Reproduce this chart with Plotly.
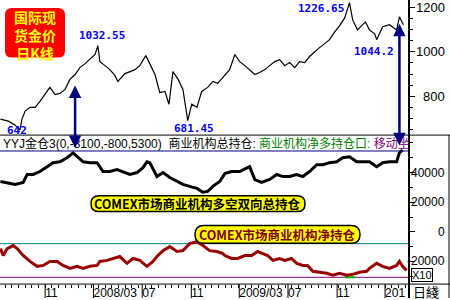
import plotly.graph_objects as go

# ---------------- data ----------------
price_dates = ["2007-07-12","2007-08-01","2007-08-18","2007-08-30","2007-09-04","2007-09-12","2007-09-24",
               "2007-10-07","2007-10-19","2007-11-01","2007-11-13","2007-11-26","2007-12-08","2007-12-21",
               "2008-01-02","2008-01-15","2008-01-27","2008-02-09","2008-02-21","2008-03-05","2008-03-12",
               "2008-03-17","2008-03-30","2008-04-11","2008-04-24","2008-05-01","2008-05-19","2008-05-31",
               "2008-06-13","2008-06-25","2008-07-10","2008-07-20","2008-08-02","2008-08-14","2008-08-27",
               "2008-09-06","2008-09-16","2008-09-29","2008-10-11","2008-10-23","2008-11-02","2008-11-15",
               "2008-11-27","2008-12-12","2008-12-25","2009-01-06","2009-01-24","2009-02-05","2009-02-18",
               "2009-03-02","2009-03-15","2009-03-27","2009-04-09","2009-04-21","2009-05-04","2009-05-16",
               "2009-05-29","2009-06-10","2009-06-23","2009-07-05","2009-07-18","2009-07-30","2009-08-12",
               "2009-08-24","2009-09-06","2009-09-18","2009-10-01","2009-10-13","2009-10-26","2009-11-07",
               "2009-11-20","2009-12-02","2009-12-10","2009-12-22","2010-01-01","2010-01-11","2010-01-21",
               "2010-02-03","2010-02-08","2010-02-23","2010-03-12","2010-03-30","2010-04-06","2010-04-16"]
price_vals = [697, 688, 670, 648, 697, 733, 750,
              750, 777, 808, 840, 808, 813, 831,
              876, 898, 929, 947, 965, 988, 1028,
              956, 938, 920, 893, 867, 902, 911,
              920, 938, 983, 947, 898, 817, 822,
              764, 911, 876, 831, 690, 764, 750,
              822, 840, 867, 858, 898, 920, 988,
              956, 938, 920, 898, 907, 920, 938,
              956, 965, 938, 952, 929, 956, 952,
              979, 1001, 1019, 1037, 1055, 1090, 1117,
              1153, 1222, 1144, 1099, 1117, 1135, 1099,
              1081, 1055, 1113, 1122, 1099, 1158, 1122]

total_dates = ["2007-07-12","2007-08-18","2007-09-07","2007-09-17","2007-10-02","2007-10-19","2007-11-06",
               "2007-11-21","2007-12-08","2007-12-26","2008-01-10","2008-01-20","2008-02-04","2008-02-21",
               "2008-03-10","2008-03-25","2008-04-11","2008-04-29","2008-05-14","2008-05-31","2008-06-18",
               "2008-07-03","2008-07-13","2008-07-20","2008-08-07","2008-08-22","2008-09-08","2008-09-26",
               "2008-10-11","2008-10-28","2008-11-15","2008-11-30","2008-12-12","2008-12-25","2009-01-11",
               "2009-01-24","2009-02-10","2009-03-02","2009-03-27","2009-04-09","2009-04-26","2009-05-16",
               "2009-06-03","2009-06-18","2009-07-05","2009-07-23","2009-08-07","2009-08-24","2009-09-11",
               "2009-09-26","2009-10-13","2009-10-31","2009-11-15","2009-12-02","2009-12-20","2010-01-04",
               "2010-01-21","2010-02-08","2010-02-23","2010-03-12","2010-03-30","2010-04-06","2010-04-14"]
total_vals = [34000, 32000, 33300, 38700, 38700, 40700, 44000,
              46700, 47300, 50000, 53300, 50700, 47300, 46700,
              46700, 40700, 40700, 42000, 40700, 38700, 40000,
              43300, 47300, 46700, 37300, 40000, 36700, 34000,
              32000, 30700, 29300, 26700, 27300, 30700, 34000,
              39300, 40700, 40700, 44000, 35300, 33300, 35300,
              38700, 37300, 37300, 38700, 37300, 40700, 45300,
              45300, 46700, 47300, 50000, 50700, 47300, 47300,
              47300, 44000, 46700, 47300, 47300, 53300, 55300]

net_dates = ["2007-07-12","2007-07-19","2007-07-29","2007-08-13","2007-08-23","2007-09-07","2007-09-24",
             "2007-10-12","2007-10-27","2007-11-13","2007-12-01","2007-12-16","2008-01-02","2008-01-20",
             "2008-02-04","2008-02-21","2008-03-10","2008-03-17","2008-04-04","2008-04-19","2008-05-06",
             "2008-05-24","2008-06-08","2008-06-25","2008-07-13","2008-07-28","2008-08-07","2008-08-22",
             "2008-09-08","2008-09-26","2008-10-11","2008-10-28","2008-11-15","2008-11-30","2008-12-17",
             "2009-01-04","2009-01-19","2009-01-24","2009-02-10","2009-02-25","2009-03-15","2009-04-01",
             "2009-04-16","2009-04-29","2009-05-11","2009-05-24","2009-06-10","2009-06-23","2009-07-10",
             "2009-07-23","2009-08-07","2009-08-19","2009-09-01","2009-09-18","2009-10-06","2009-10-21",
             "2009-11-07","2009-11-25","2009-12-10","2009-12-27","2010-01-14","2010-01-21","2010-02-08",
             "2010-02-23","2010-03-12","2010-03-30","2010-04-06","2010-04-14","2010-04-24"]
net_vals = [-11300, -16000, -11300, -9300, -11300, -16000, -20000,
            -23300, -22700, -20000, -20000, -22700, -24700, -23300,
            -24700, -23300, -22700, -20000, -19300, -18000, -16700,
            -21300, -18000, -19300, -23300, -20000, -16700, -12700,
            -10000, -13300, -12700, -8000, -6700, -9300, -12700,
            -13300, -14700, -16000, -18000, -18000, -16000, -16000,
            -13300, -14700, -16000, -19300, -18000, -19300, -18000,
            -21300, -22700, -22700, -26700, -27300, -28000, -29300,
            -28000, -29300, -28700, -27300, -26700, -24700, -21300,
            -23300, -24700, -22700, -20000, -23300, -26000]

teal_level = -8000
purple_level = -30700
green_span = ["2009-11-20", "2009-12-15"]

x_range = ["2007-07-11", "2010-04-30"]
x_tick_vals = ["2007-11-01", "2008-03-01", "2008-07-01", "2008-11-01",
               "2009-03-01", "2009-07-01", "2009-11-01", "2010-03-01"]
x_tick_text = ["11", "2008/03", "07", "11", "2009/03", "07", "11", "201"]
price_ticks = [1200, 1000, 800]
pos_ticks = [40000, 20000, 0, -20000]

value_labels = ["642", "1032.55", "681.45", "1226.65", "1044.2"]
arrow_dates = ["2008-01-15", "2010-04-06"]

# ---------------- helpers (layout geometry) ----------------
W, H = 450, 300
def px(x): return x / W
def py(y): return 1 - y / H

def rounded(x0, y0, x1, y1, r):
    X0, X1 = px(x0), px(x1)
    rx, ry = r / W, r / H
    Y0, Y1 = py(y0), py(y1)
    return (f"M {X0+rx},{Y0} L {X1-rx},{Y0} Q {X1},{Y0} {X1},{Y0-ry} "
            f"L {X1},{Y1+ry} Q {X1},{Y1} {X1-rx},{Y1} L {X0+rx},{Y1} "
            f"Q {X0},{Y1} {X0},{Y1+ry} L {X0},{Y0-ry} Q {X0},{Y0} {X0+rx},{Y0} Z")

LAT = "Liberation Sans, Arial, Noto Sans CJK SC"
CJK = "Noto Sans CJK SC"

fig = go.Figure()
fig.add_trace(go.Scatter(x=price_dates, y=price_vals, mode="lines",
                         line=dict(color="black", width=1.2), xaxis="x", yaxis="y", hoverinfo="skip"))
fig.add_trace(go.Scatter(x=x_range, y=[teal_level] * 2, mode="lines",
                         line=dict(color="#008080", width=1), xaxis="x", yaxis="y2", hoverinfo="skip"))
fig.add_trace(go.Scatter(x=x_range, y=[purple_level] * 2, mode="lines",
                         line=dict(color="#800080", width=1), xaxis="x", yaxis="y2", hoverinfo="skip"))
fig.add_trace(go.Scatter(x=green_span, y=[purple_level] * 2, mode="lines",
                         line=dict(color="#00b000", width=2), xaxis="x", yaxis="y2", hoverinfo="skip"))
fig.add_trace(go.Scatter(x=total_dates, y=total_vals, mode="lines",
                         line=dict(color="black", width=3), xaxis="x", yaxis="y2", hoverinfo="skip"))
fig.add_trace(go.Scatter(x=net_dates, y=net_vals, mode="lines",
                         line=dict(color="#990000", width=3), xaxis="x", yaxis="y2", hoverinfo="skip"))

shapes = [
    dict(type="path", path=rounded(5, 8, 65, 58, 7), xref="paper", yref="paper",
         fillcolor="#ff0000", line=dict(width=0), layer="above"),
    dict(type="path", path=rounded(91, 197, 305, 213, 8), xref="paper", yref="paper",
         fillcolor="#ffff00", line=dict(color="black", width=1.5), layer="above"),
    dict(type="path", path=rounded(195, 227, 360, 245, 9), xref="paper", yref="paper",
         fillcolor="#ffff00", line=dict(color="black", width=1.5), layer="above"),
    dict(type="line", xref="paper", yref="paper", x0=0, x1=1, y0=py(136), y1=py(136),
         line=dict(color="black", width=1)),
    dict(type="line", xref="paper", yref="paper", x0=0, x1=px(409), y0=py(152), y1=py(152),
         line=dict(color="#000080", width=1)),
    dict(type="line", xref="paper", yref="paper", x0=0, x1=1, y0=py(286), y1=py(286),
         line=dict(color="black", width=1)),
    dict(type="line", xref="paper", yref="paper", x0=px(409), x1=px(409), y0=0, y1=1,
         line=dict(color="black", width=2)),
    dict(type="line", xref="paper", yref="paper", x0=px(449), x1=px(449), y0=py(300), y1=py(136),
         line=dict(color="black", width=1)),
]
for tv in x_tick_vals:
    shapes.append(dict(type="line", xref="x", yref="paper", x0=tv, x1=tv, y0=py(286), y1=py(300),
                       line=dict(color="black", width=1)))

ann = []
# red title box (one text block, three lines)
ann.append(dict(text="<b>国际现<br>货金价<br>日K线</b>", x=px(35), y=py(35), xref="paper", yref="paper",
                xanchor="center", yanchor="middle", showarrow=False, align="center",
                font=dict(family=CJK, size=14, color="#ffff00")))
# pill labels
ann.append(dict(text="<b>COMEX市场商业机构多空双向总持仓</b>", x=px(197), y=py(205), xref="paper", yref="paper",
                xanchor="center", yanchor="middle", showarrow=False,
                font=dict(family=CJK, size=12.5, color="black")))
ann.append(dict(text="<b>COMEX市场商业机构净持仓</b>", x=px(277), y=py(236), xref="paper", yref="paper",
                xanchor="center", yanchor="middle", showarrow=False,
                font=dict(family=CJK, size=12.5, color="#800000")))
# value labels
for txt, (xx, yy) in zip(value_labels, [(5, 131), (77, 36), (172, 129), (296, 9), (352, 52)]):
    ann.append(dict(text=f"<b>{txt}</b>", x=px(xx), y=py(yy), xref="paper", yref="paper",
                    xanchor="left", yanchor="middle", showarrow=False,
                    font=dict(family="DejaVu Sans Mono", size=11, color="#0000ff")))
# indicator strip title
ann.append(dict(text='YYJ金仓3(0,-3100,-800,5300)  商业机构总持仓: '
                     '<span style="color:#008000">商业机构净多持仓口:</span> '
                     '<span style="color:#800080">移动坐</span>',
                x=px(1), y=py(144), xref="paper", yref="paper", xanchor="left", yanchor="middle",
                showarrow=False, font=dict(family=LAT, size=12, color="black")))
# y tick labels (right aligned)
for v in price_ticks:
    ann.append(dict(text=str(v), x=px(447), y=v, xref="paper", yref="y", xanchor="right",
                    yanchor="middle", showarrow=False, font=dict(family=LAT, size=13, color="black")))
for v in pos_ticks:
    ann.append(dict(text=str(v), x=px(447), y=v, xref="paper", yref="y2", xanchor="right",
                    yanchor="middle", showarrow=False, font=dict(family=LAT, size=12, color="black")))
ann.append(dict(text="X10", x=px(422), y=py(277), xref="paper", yref="paper", xanchor="center",
                yanchor="middle", showarrow=False, bordercolor="black", borderwidth=1, borderpad=0,
                font=dict(family=LAT, size=11, color="black")))
ann.append(dict(text="日綫", x=px(426), y=py(293), xref="paper", yref="paper", xanchor="center",
                yanchor="middle", showarrow=False, font=dict(family=CJK, size=13, color="black")))
# double-headed arrows
for d, (ytip, length) in zip(arrow_dates, [(86, 64), (24, 123)]):
    ann.append(dict(text="", x=d, xref="x", y=py(ytip), yref="paper", ax=0, ay=length,
                    showarrow=True, arrowhead=2, startarrowhead=2, arrowside="end+start",
                    arrowwidth=2.5, arrowsize=1, startarrowsize=1, arrowcolor="#000080"))

fig.update_layout(
    width=W, height=H, margin=dict(l=0, r=0, t=0, b=0),
    paper_bgcolor="white", plot_bgcolor="white", showlegend=False,
    xaxis=dict(domain=[0, px(409)], range=x_range, type="date", anchor="y2",
               tickvals=x_tick_vals, ticktext=x_tick_text, ticks="",
               ticklabelposition="outside right",
               tickfont=dict(family=LAT, size=12, color="black"),
               minor=dict(ticks="outside", ticklen=3, tickcolor="black",
                          dtick=16.7 * 86400000, tick0="2007-11-01"),
               showgrid=False, zeroline=False, showline=False),
    yaxis=dict(domain=[py(136), 1], range=[625.1, 1233.6], side="right", anchor="x",
               tickvals=price_ticks, ticks="outside", ticklen=5, tickcolor="black",
               showticklabels=False, showgrid=False, zeroline=False,
               minor=dict(dtick=50, ticks="outside", ticklen=3, tickcolor="black")),
    yaxis2=dict(domain=[py(286), py(136)], range=[-35300, 65300], side="right", anchor="x",
                tickvals=pos_ticks, ticks="outside", ticklen=5, tickcolor="black",
                showticklabels=False, showgrid=False, zeroline=False,
                minor=dict(dtick=10000, ticks="outside", ticklen=3, tickcolor="black")),
    shapes=shapes, annotations=ann,
)

fig.write_html("out.html")
